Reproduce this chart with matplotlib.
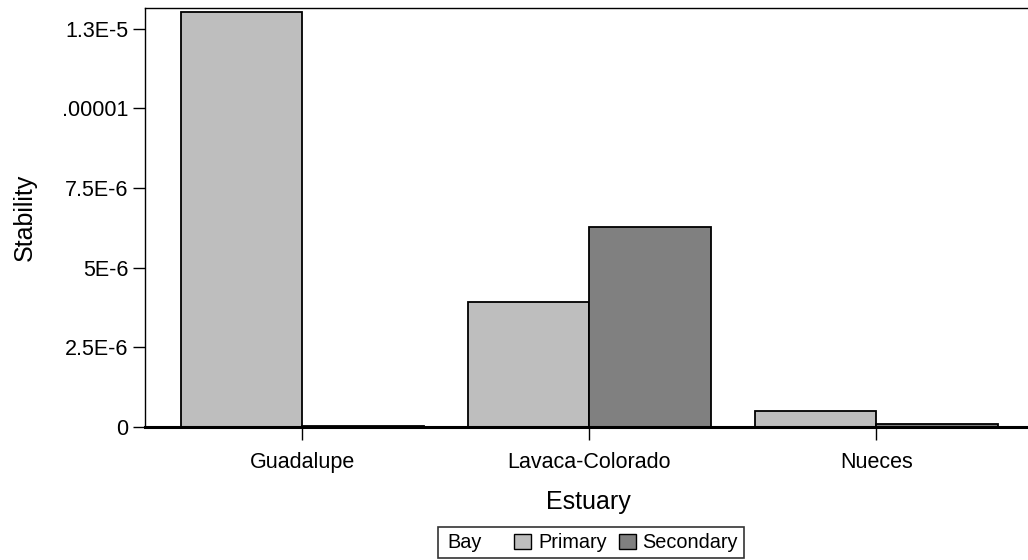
import numpy as np
import matplotlib
matplotlib.use("Agg")
import matplotlib.pyplot as plt
from matplotlib.patches import Patch
from matplotlib.transforms import Affine2D
from matplotlib.ticker import FixedLocator, FixedFormatter

plt.rcParams["font.family"] = ["Liberation Sans", "DejaVu Sans"]

estuaries = ["Guadalupe", "Lavaca-Colorado", "Nueces"]
primary = [13.02e-6, 3.92e-6, 0.50e-6]
secondary = [0.03e-6, 6.28e-6, 0.08e-6]
y_ticks = [0, 2.5e-6, 5e-6, 7.5e-6, 1e-5, 1.25e-5]
y_tick_labels = ["0", "2.5E-6", "5E-6", "7.5E-6", ".00001", "1.3E-5"]

PRIMARY_COLOR = "#bebebe"
SECONDARY_COLOR = "#808080"


def main():
    fig = plt.figure(figsize=(10.28, 5.6), dpi=100)
    ax = fig.add_axes([0.141, 0.2375, 0.862, 0.748])

    x = np.arange(len(estuaries))
    width = 0.424
    ax.bar(x - width / 2, primary, width, color=PRIMARY_COLOR,
           edgecolor="black", linewidth=1.3, zorder=2)
    ax.bar(x + width / 2, secondary, width, color=SECONDARY_COLOR,
           edgecolor="black", linewidth=1.3, zorder=2)

    ax.set_xlim(-0.549, 2.54)
    ax.set_ylim(0, 13.15e-6)

    ax.yaxis.set_major_locator(FixedLocator(y_ticks))
    ax.yaxis.set_major_formatter(FixedFormatter(y_tick_labels))
    ax.set_xticks(x)
    ax.set_xticklabels(estuaries)

    ax.tick_params(axis="y", length=9, width=1, pad=3, labelsize=15.5)
    ax.tick_params(axis="x", length=9, width=1, pad=9, labelsize=15.5)

    ax.spines["right"].set_visible(False)
    ax.spines["bottom"].set_linewidth(2.2)
    ax.spines["bottom"].set_zorder(3)
    for side in ["left", "top"]:
        ax.spines[side].set_linewidth(1)

    ax.set_ylabel("Stability", fontsize=18, labelpad=18)
    ax.set_xlabel("Estuary", fontsize=18, labelpad=12)

    # legend: "Bay" heading sits inline, ahead of the two swatches
    handles = [Patch(visible=False),
               Patch(facecolor=PRIMARY_COLOR, edgecolor="black"),
               Patch(facecolor=SECONDARY_COLOR, edgecolor="black")]
    leg = fig.legend(handles, ["Bay", "Primary", "Secondary"], ncol=3,
                     loc="center", bbox_to_anchor=(0.575, 0.0305),
                     fontsize=14.3, frameon=True, fancybox=False,
                     edgecolor="black", handlelength=0.85, handleheight=0.8,
                     handletextpad=0.35, columnspacing=0.6, borderpad=0.3,
                     borderaxespad=0)
    leg.get_frame().set_linewidth(1.2)
    bay = leg.get_texts()[0]
    bay.set_transform(bay.get_transform() + Affine2D().translate(-21, 0))

    fig.savefig("out.png", dpi=100)
    plt.close(fig)


if __name__ == "__main__":
    main()
